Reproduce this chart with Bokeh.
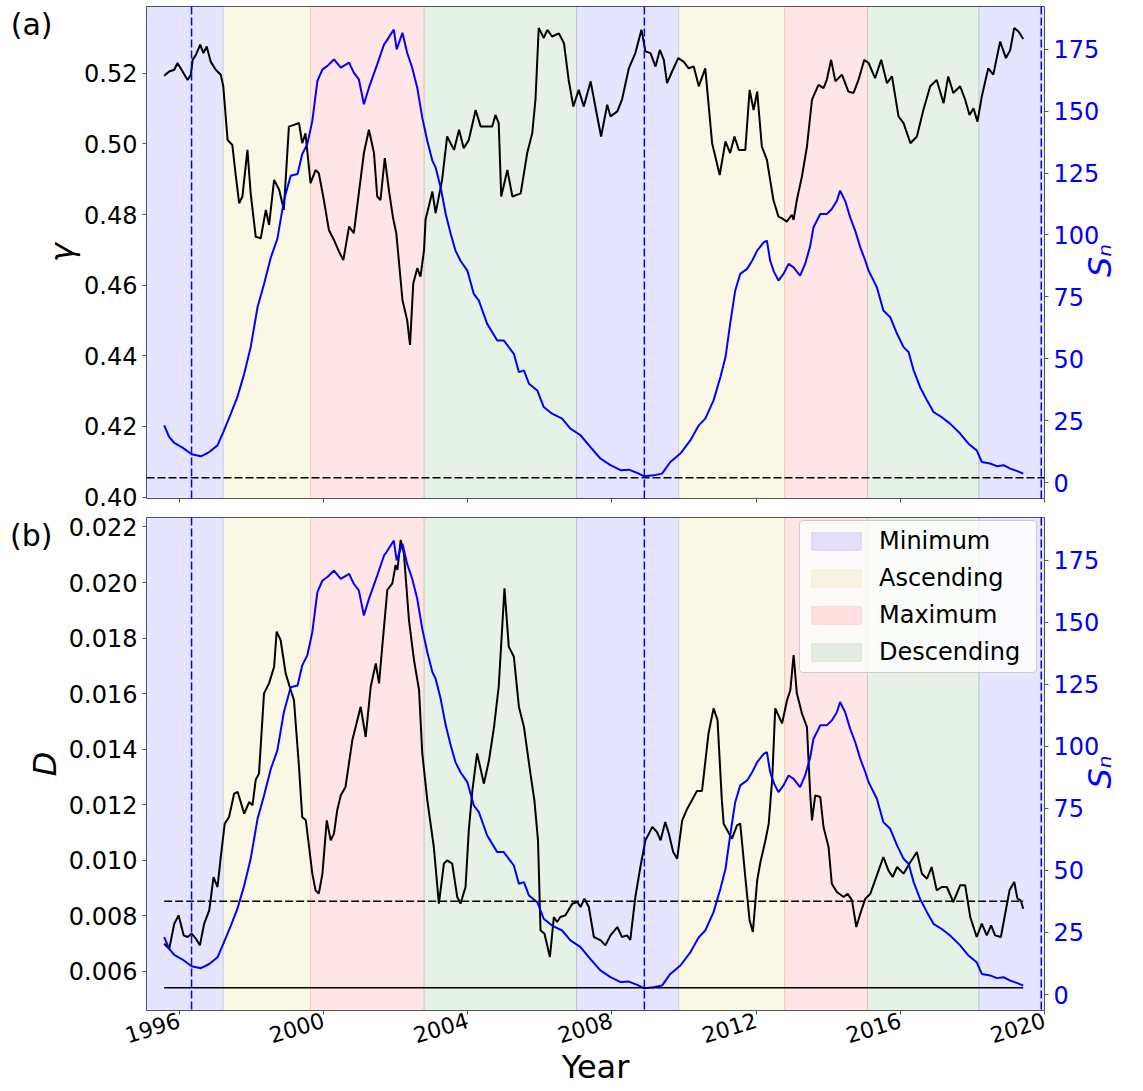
import math

from bokeh.embed import file_html
from bokeh.layouts import column
from bokeh.models import (FixedTicker, Legend, LegendItem, LinearAxis,
                          NumeralTickFormatter, Range1d, Span)
from bokeh.plotting import figure
from bokeh.resources import INLINE

# ---------------------------------------------------------------- data
# solar-cycle phases (decimal years)
phase_names = ["Minimum", "Ascending", "Maximum", "Descending"]
phase_colors = ["blue", "#bfbf00", "red", "green"]
phase_kind = ["Minimum", "Ascending", "Maximum", "Descending", "Minimum",
              "Ascending", "Maximum", "Descending", "Minimum"]
phase_start = [1995.0, 1997.22, 1999.64, 2002.79, 2007.02, 2009.85, 2012.79, 2015.09, 2018.18]
phase_end = [1997.22, 1999.64, 2002.79, 2007.02, 2009.85, 2012.79, 2015.09, 2018.18, 2020.2]

# dates of cycle minima
minimum_dates = [1996.34, 2008.90, 2019.91]

# smoothed sunspot number
sn_year = [1995.58, 1995.72, 1995.86, 1996.09, 1996.34, 1996.60, 1996.83, 1997.06, 1997.22,
           1997.43, 1997.61, 1997.80, 1997.98, 1998.17, 1998.35, 1998.54, 1998.72, 1998.90,
           1999.09, 1999.28, 1999.41, 1999.55, 1999.69, 1999.83, 1999.97, 2000.11, 2000.29,
           2000.48, 2000.71, 2000.84, 2000.98, 2001.12, 2001.26, 2001.49, 2001.68, 2001.75,
           2001.95, 2002.03, 2002.19, 2002.32, 2002.46, 2002.60, 2002.74, 2002.88, 2003.02,
           2003.11, 2003.25, 2003.39, 2003.53, 2003.66, 2003.80, 2003.99, 2004.17, 2004.31,
           2004.54, 2004.82, 2005.00, 2005.28, 2005.42, 2005.56, 2005.70, 2005.93, 2006.11,
           2006.34, 2006.62, 2006.85, 2007.13, 2007.40, 2007.68, 2007.96, 2008.24, 2008.47,
           2008.70, 2008.90, 2009.16, 2009.39, 2009.62, 2009.90, 2010.18, 2010.41, 2010.59,
           2010.82, 2011.01, 2011.15, 2011.28, 2011.42, 2011.56, 2011.75, 2011.89, 2012.03,
           2012.21, 2012.30, 2012.39, 2012.50, 2012.62, 2012.76, 2012.90, 2013.04, 2013.22,
           2013.36, 2013.50, 2013.59, 2013.78, 2013.96, 2014.10, 2014.24, 2014.33, 2014.47,
           2014.61, 2014.75, 2014.89, 2015.03, 2015.12, 2015.35, 2015.53, 2015.72, 2015.91,
           2016.09, 2016.23, 2016.37, 2016.55, 2016.74, 2016.92, 2017.15, 2017.38, 2017.66,
           2017.89, 2018.12, 2018.26, 2018.49, 2018.68, 2018.86, 2019.05, 2019.23, 2019.41]
sn_value = [23.1, 18.4, 16.0, 14.1, 11.4, 10.6, 12.3, 15.0, 20.4,
            27.8, 34.5, 43.9, 54.7, 70.8, 80.2, 91.0, 98.4, 113.8,
            123.9, 124.6, 132.7, 136.7, 146.1, 162.2, 166.9, 168.3, 170.9,
            167.6, 169.6, 165.6, 162.9, 152.8, 159.5, 168.9, 177.0, 178.4,
            183.0, 175.0, 181.7, 173.6, 167.6, 159.5, 147.4, 138.0, 130.0,
            127.3, 119.2, 108.5, 100.4, 93.7, 89.6, 85.6, 76.2, 73.5,
            64.1, 57.4, 57.4, 52.0, 44.6, 45.3, 39.9, 37.2, 30.5,
            27.8, 25.8, 21.8, 19.1, 14.4, 9.7, 7.0, 5.0, 5.2,
            3.9, 2.5, 2.9, 3.6, 8.3, 11.7, 17.1, 23.1, 25.8,
            33.2, 42.6, 50.6, 64.1, 77.5, 84.3, 86.3, 89.6, 93.7,
            97.0, 97.7, 89.6, 85.0, 81.6, 84.3, 88.3, 86.9, 83.6,
            88.3, 95.5, 103.0, 108.5, 108.5, 110.5, 113.8, 117.9, 113.8,
            107.1, 101.7, 95.0, 89.6, 85.6, 78.9, 69.5, 66.8, 60.1,
            54.7, 52.7, 45.3, 38.5, 33.2, 28.5, 26.4, 23.8, 19.8,
            15.7, 13.0, 8.3, 7.7, 6.6, 7.0, 5.6, 4.7, 3.6]

# exponent gamma
gamma_year = [1995.58, 1995.72, 1995.86, 1995.95, 1996.09, 1996.23, 1996.32, 1996.37, 1996.46,
              1996.58, 1996.67, 1996.76, 1996.87, 1997.01, 1997.15, 1997.22, 1997.34, 1997.47,
              1997.57, 1997.66, 1997.75, 1997.89, 1997.98, 1998.12, 1998.26, 1998.40, 1998.49,
              1998.63, 1998.77, 1998.90, 1999.04, 1999.18, 1999.32, 1999.41, 1999.50, 1999.64,
              1999.78, 1999.87, 2000.01, 2000.15, 2000.29, 2000.43, 2000.55, 2000.71, 2000.84,
              2001.12, 2001.26, 2001.40, 2001.49, 2001.58, 2001.70, 2001.82, 2001.93, 2002.02,
              2002.19, 2002.32, 2002.40, 2002.49, 2002.60, 2002.69, 2002.79, 2002.83, 2003.02,
              2003.11, 2003.29, 2003.43, 2003.62, 2003.76, 2003.89, 2004.03, 2004.22, 2004.36,
              2004.54, 2004.68, 2004.77, 2004.86, 2004.93, 2005.10, 2005.24, 2005.47, 2005.65,
              2005.79, 2005.88, 2005.97, 2006.11, 2006.21, 2006.34, 2006.53, 2006.67, 2006.80,
              2006.93, 2007.08, 2007.22, 2007.41, 2007.54, 2007.70, 2007.87, 2007.96, 2008.15,
              2008.28, 2008.47, 2008.65, 2008.82, 2008.93, 2009.07, 2009.21, 2009.33, 2009.44,
              2009.53, 2009.67, 2009.84, 2009.99, 2010.13, 2010.27, 2010.41, 2010.59, 2010.78,
              2010.99, 2011.15, 2011.28, 2011.40, 2011.52, 2011.70, 2011.82, 2011.93, 2012.03,
              2012.16, 2012.30, 2012.48, 2012.62, 2012.71, 2012.85, 2012.99, 2013.04, 2013.13,
              2013.27, 2013.41, 2013.55, 2013.73, 2013.87, 2013.96, 2014.08, 2014.20, 2014.38,
              2014.56, 2014.70, 2014.84, 2015.00, 2015.12, 2015.30, 2015.47, 2015.63, 2015.77,
              2015.95, 2016.09, 2016.28, 2016.46, 2016.64, 2016.83, 2017.01, 2017.20, 2017.33,
              2017.47, 2017.66, 2017.80, 2017.92, 2018.03, 2018.14, 2018.26, 2018.44, 2018.58,
              2018.77, 2018.93, 2019.05, 2019.16, 2019.28, 2019.41]
gamma_value = [0.5193, 0.5205, 0.5210, 0.5229, 0.5205, 0.5181, 0.5196, 0.5238, 0.5252,
               0.5281, 0.5257, 0.5276, 0.5233, 0.5210, 0.5196, 0.5163, 0.5011, 0.4997,
               0.4907, 0.4832, 0.4851, 0.4983, 0.4860, 0.4737, 0.4733, 0.4813, 0.4771,
               0.4898, 0.4870, 0.4813, 0.5049, 0.5054, 0.5059, 0.5002, 0.5030, 0.4889,
               0.4926, 0.4917, 0.4841, 0.4756, 0.4728, 0.4695, 0.4671, 0.4766, 0.4747,
               0.4974, 0.5040, 0.4974, 0.4851, 0.4841, 0.4960, 0.4865, 0.4790, 0.4747,
               0.4558, 0.4501, 0.4431, 0.4605, 0.4648, 0.4624, 0.4700, 0.4785, 0.4865,
               0.4804, 0.4898, 0.5021, 0.4983, 0.5040, 0.4988, 0.5011, 0.5096, 0.5049,
               0.5049, 0.5049, 0.5082, 0.5059, 0.4851, 0.4926, 0.4851, 0.4860, 0.4974,
               0.5030, 0.5125, 0.5328, 0.5300, 0.5323, 0.5304, 0.5313, 0.5285, 0.5181,
               0.5106, 0.5153, 0.5106, 0.5177, 0.5106, 0.5021, 0.5111, 0.5078, 0.5092,
               0.5125, 0.5214, 0.5257, 0.5323, 0.5262, 0.5257, 0.5219, 0.5266, 0.5238,
               0.5172, 0.5205, 0.5243, 0.5233, 0.5214, 0.5219, 0.5163, 0.5214, 0.5002,
               0.4912, 0.5007, 0.4974, 0.5021, 0.4983, 0.4983, 0.5153, 0.5096, 0.5148,
               0.4992, 0.4955, 0.4841, 0.4794, 0.4790, 0.4780, 0.4799, 0.4785, 0.4841,
               0.4907, 0.4992, 0.5125, 0.5167, 0.5158, 0.5181, 0.5238, 0.5177, 0.5196,
               0.5148, 0.5144, 0.5181, 0.5238, 0.5229, 0.5186, 0.5238, 0.5172, 0.5191,
               0.5078, 0.5059, 0.5002, 0.5021, 0.5096, 0.5163, 0.5181, 0.5115, 0.5191,
               0.5144, 0.5163, 0.5125, 0.5082, 0.5101, 0.5063, 0.5134, 0.5214, 0.5196,
               0.5290, 0.5243, 0.5266, 0.5328, 0.5318, 0.5297]
gamma_threshold = 0.4055

# coefficient D
d_year = [1995.58, 1995.72, 1995.86, 1995.98, 1996.12, 1996.23, 1996.34, 1996.46, 1996.57,
          1996.69, 1996.83, 1996.95, 1997.06, 1997.15, 1997.26, 1997.38, 1997.52, 1997.62,
          1997.80, 1997.94, 1998.03, 1998.12, 1998.21, 1998.35, 1998.49, 1998.63, 1998.70,
          1998.81, 1998.95, 1999.09, 1999.18, 1999.32, 1999.41, 1999.51, 1999.60, 1999.69,
          1999.78, 1999.87, 1999.97, 2000.09, 2000.20, 2000.29, 2000.38, 2000.48, 2000.61,
          2000.80, 2000.94, 2001.03, 2001.17, 2001.31, 2001.45, 2001.54, 2001.63, 2001.77,
          2001.91, 2002.00, 2002.05, 2002.14, 2002.23, 2002.37, 2002.51, 2002.65, 2002.74,
          2002.88, 2003.06, 2003.20, 2003.34, 2003.43, 2003.57, 2003.71, 2003.80, 2003.94,
          2004.03, 2004.13, 2004.26, 2004.45, 2004.59, 2004.73, 2004.86, 2005.02, 2005.14,
          2005.28, 2005.42, 2005.56, 2005.74, 2005.85, 2005.95, 2006.02, 2006.13, 2006.28,
          2006.39, 2006.48, 2006.57, 2006.71, 2006.90, 2007.04, 2007.13, 2007.24, 2007.36,
          2007.50, 2007.69, 2007.82, 2007.96, 2008.15, 2008.28, 2008.42, 2008.51, 2008.65,
          2008.79, 2008.93, 2009.12, 2009.25, 2009.35, 2009.48, 2009.58, 2009.70, 2009.81,
          2009.95, 2010.09, 2010.22, 2010.36, 2010.50, 2010.68, 2010.82, 2010.93, 2011.05,
          2011.10, 2011.33, 2011.47, 2011.56, 2011.70, 2011.82, 2011.91, 2012.03, 2012.12,
          2012.26, 2012.35, 2012.45, 2012.53, 2012.72, 2012.86, 2012.95, 2013.04, 2013.13,
          2013.27, 2013.41, 2013.50, 2013.55, 2013.64, 2013.78, 2013.87, 2014.01, 2014.10,
          2014.24, 2014.43, 2014.54, 2014.66, 2014.78, 2014.89, 2015.03, 2015.17, 2015.35,
          2015.53, 2015.67, 2015.79, 2015.91, 2016.09, 2016.28, 2016.46, 2016.60, 2016.74,
          2016.87, 2017.01, 2017.15, 2017.29, 2017.47, 2017.66, 2017.80, 2017.94, 2018.12,
          2018.26, 2018.40, 2018.52, 2018.63, 2018.79, 2018.91, 2019.03, 2019.16, 2019.25,
          2019.34, 2019.41]
d_value = [0.00700, 0.00682, 0.00772, 0.00802, 0.00730, 0.00724, 0.00736, 0.00718, 0.00694,
           0.00772, 0.00820, 0.00940, 0.00904, 0.01012, 0.01132, 0.01156, 0.01240, 0.01246,
           0.01168, 0.01210, 0.01198, 0.01290, 0.01312, 0.01601, 0.01637, 0.01697, 0.01823,
           0.01793, 0.01673, 0.01613, 0.01577, 0.01336, 0.01156, 0.01144, 0.01048, 0.00952,
           0.00892, 0.00880, 0.00952, 0.01144, 0.01072, 0.01096, 0.01180, 0.01234, 0.01264,
           0.01433, 0.01505, 0.01553, 0.01444, 0.01625, 0.01709, 0.01637, 0.01769, 0.01973,
           0.01997, 0.02063, 0.02045, 0.02153, 0.02105, 0.01865, 0.01721, 0.01613, 0.01385,
           0.01216, 0.01048, 0.00844, 0.00988, 0.01000, 0.00988, 0.00868, 0.00844, 0.00904,
           0.01108, 0.01252, 0.01385, 0.01276, 0.01360, 0.01480, 0.01625, 0.01979, 0.01769,
           0.01733, 0.01553, 0.01480, 0.01312, 0.01216, 0.01072, 0.00748, 0.00736, 0.00652,
           0.00796, 0.00778, 0.00796, 0.00802, 0.00844, 0.00850, 0.00832, 0.00862, 0.00832,
           0.00724, 0.00712, 0.00694, 0.00730, 0.00760, 0.00724, 0.00730, 0.00714, 0.00868,
           0.00976, 0.01072, 0.01120, 0.01102, 0.01072, 0.01138, 0.01096, 0.01030, 0.01006,
           0.01144, 0.01186, 0.01216, 0.01250, 0.01250, 0.01457, 0.01547, 0.01505, 0.01216,
           0.01132, 0.01078, 0.01126, 0.01132, 0.00940, 0.00784, 0.00742, 0.00928, 0.00994,
           0.01072, 0.01132, 0.01300, 0.01547, 0.01493, 0.01577, 0.01613, 0.01739, 0.01601,
           0.01529, 0.01480, 0.01240, 0.01144, 0.01234, 0.01228, 0.01120, 0.01048, 0.00916,
           0.00886, 0.00868, 0.00880, 0.00856, 0.00760, 0.00808, 0.00862, 0.00880, 0.00946,
           0.01012, 0.00964, 0.00940, 0.00976, 0.00952, 0.00994, 0.01030, 0.00952, 0.00934,
           0.00976, 0.00892, 0.00904, 0.00904, 0.00850, 0.00910, 0.00910, 0.00796, 0.00724,
           0.00772, 0.00730, 0.00766, 0.00730, 0.00724, 0.00808, 0.00892, 0.00922, 0.00862,
           0.00856, 0.00826]
# reference levels for D
d_level_year = [1995.58, 2019.41]
d_level_upper = [0.00853, 0.00853]
d_level_lower = [0.00541, 0.00541]

# ticks
year_ticks = [1996, 2000, 2004, 2008, 2012, 2016, 2020]
gamma_ticks = [0.40, 0.42, 0.44, 0.46, 0.48, 0.50, 0.52]
d_ticks = [0.006, 0.008, 0.010, 0.012, 0.014, 0.016, 0.018, 0.020, 0.022]
sn_ticks = [0, 25, 50, 75, 100, 125, 150, 175]

# ---------------------------------------------------------------- style
W = 1143
FONT = "DejaVu Sans"
FRAME = "#555555"
X_LIMITS = (1995.09, 2020.0)
SN_LIMITS = (-6.45, 192.3)
SN_TITLE_AT = 83          # Sn level where the rotated right-hand title starts
AXIS_PROPS = LinearAxis.properties()

x_range = Range1d(*X_LIMITS)


def style_axis(ax, color="black", size="24px"):
    ax.major_label_text_font = FONT
    ax.major_label_text_font_size = size
    ax.major_label_text_color = color
    ax.axis_line_color = None
    ax.major_tick_line_color = FRAME
    ax.major_tick_in = 0
    ax.major_tick_out = 4
    ax.minor_tick_line_color = None
    ax.major_label_standoff = 5
    ax.axis_label_text_font = FONT
    ax.axis_label_text_font_size = "32px"
    ax.axis_label_text_font_style = "italic"
    ax.axis_label_text_color = color


def bare_axis(**kw):
    ax = LinearAxis(**kw)
    ax.axis_line_color = None
    ax.major_tick_line_color = None
    ax.minor_tick_line_color = None
    ax.major_tick_out = 0
    ax.major_tick_in = 0
    ax.minor_tick_out = 0
    ax.minor_tick_in = 0
    return ax


def add_tag(p, tag, standoff):
    """Panel letter drawn as the label of a bare outer left axis."""
    ax = bare_axis(ticker=FixedTicker(ticks=[]), axis_label="\n" + tag)
    ax.major_label_standoff = 0
    ax.axis_label_standoff = standoff
    ax.axis_label_text_font = FONT
    ax.axis_label_text_font_size = "30px"
    ax.axis_label_text_font_style = "normal"
    ax.axis_label_text_line_height = 1.0
    ax.axis_label_text_color = "black"
    if "axis_label_orientation" in AXIS_PROPS:
        ax.axis_label_orientation = "horizontal"
    if "axis_label_align" in AXIS_PROPS:
        ax.axis_label_align = "end"
    p.add_layout(ax, "left")


def add_sn_title(p):
    """Right-hand title S_n, reading upwards, on a bare outer right axis."""
    ax = bare_axis(y_range_name="sn", ticker=FixedTicker(ticks=[SN_TITLE_AT]),
                   major_label_overrides={SN_TITLE_AT: "S\u2099"})
    ax.major_label_orientation = math.pi / 2
    ax.major_label_standoff = -2
    ax.major_label_text_font = FONT
    ax.major_label_text_font_size = "32px"
    ax.major_label_text_font_style = "italic"
    ax.major_label_text_color = "blue"
    p.add_layout(ax, "right")


def build_panel(height, border_top, border_bottom, y_limits, y_ticks, y_format,
                y_label, label_standoff, series_year, series_value, tag, tag_standoff):
    p = figure(width=W, height=height, x_range=x_range, y_range=Range1d(*y_limits),
               output_backend="svg", toolbar_location=None,
               min_border_left=146, min_border_right=99,
               min_border_top=border_top, min_border_bottom=border_bottom)
    p.xgrid.visible = False
    p.ygrid.visible = False
    p.outline_line_color = FRAME
    p.outline_line_width = 1
    p.extra_y_ranges = {"sn": Range1d(*SN_LIMITS)}

    # shaded cycle phases
    phase_renderers = {}
    for name, color in zip(phase_names, phase_colors):
        lefts = [s for s, k in zip(phase_start, phase_kind) if k == name]
        rights = [e for e, k in zip(phase_end, phase_kind) if k == name]
        phase_renderers[name] = p.quad(left=lefts, right=rights,
                                       bottom=y_limits[0], top=y_limits[1],
                                       fill_color=color, fill_alpha=0.1,
                                       line_color=color, line_alpha=0.12, line_width=1)

    p.line(series_year, series_value, line_color="black", line_width=2)
    p.line(sn_year, sn_value, line_color="blue", line_width=2, y_range_name="sn")

    for d in minimum_dates:
        p.add_layout(Span(location=d, dimension="height", line_color="blue",
                          line_dash="8 3", line_width=1.5))

    # axes
    p.xaxis.ticker = FixedTicker(ticks=year_ticks)
    style_axis(p.xaxis[0], size="22px")
    p.yaxis.ticker = FixedTicker(ticks=y_ticks)
    p.yaxis.formatter = NumeralTickFormatter(format=y_format)
    style_axis(p.yaxis[0])
    p.yaxis.axis_label = y_label
    p.yaxis.axis_label_standoff = label_standoff

    right = LinearAxis(y_range_name="sn", ticker=FixedTicker(ticks=sn_ticks),
                       formatter=NumeralTickFormatter(format="0"))
    style_axis(right, color="blue")
    p.add_layout(right, "right")
    add_sn_title(p)

    add_tag(p, tag, tag_standoff)
    return p, phase_renderers


# (a) exponent gamma
top, _ = build_panel(513, 6, 15, (0.3996, 0.5389), gamma_ticks, "0.00", "\u03b3", 0,
                     gamma_year, gamma_value, "(a)", -12)
top.add_layout(Span(location=gamma_threshold, dimension="width", line_color="black",
                    line_dash="8 3", line_width=1.5))
top.xaxis.major_label_overrides = {t: "" for t in year_ticks}
top.xaxis.major_label_standoff = 0

# (b) coefficient D
bottom, phase_r = build_panel(578, 4, 81, (0.004595, 0.02234), d_ticks, "0.000", "D", 2,
                              d_year, d_value, "(b)", -30)
bottom.line(d_level_year, d_level_upper, line_color="black", line_width=1.5, line_dash="8 3")
bottom.line(d_level_year, d_level_lower, line_color="black", line_width=1.5)
bottom.xaxis.major_label_orientation = math.radians(17)
bottom.xaxis.axis_label = "Year"
bottom.xaxis.axis_label_text_font_style = "normal"
bottom.xaxis.axis_label_standoff = -6

legend = Legend(items=[LegendItem(label=n, renderers=[phase_r[n]]) for n in phase_names],
                location=(653, 337), padding=5, spacing=7, glyph_width=62, glyph_height=22,
                label_height=30, label_width=152, label_standoff=12,
                label_text_font=FONT, label_text_font_size="24px", label_text_color="black",
                background_fill_color="white", background_fill_alpha=0.8,
                border_line_color="#cccccc", border_line_alpha=1.0)
if "border_radius" in Legend.properties():
    legend.border_radius = 4
bottom.add_layout(legend)

layout = column(top, bottom, spacing=0)
open("out.html", "w").write(file_html(layout, INLINE))
